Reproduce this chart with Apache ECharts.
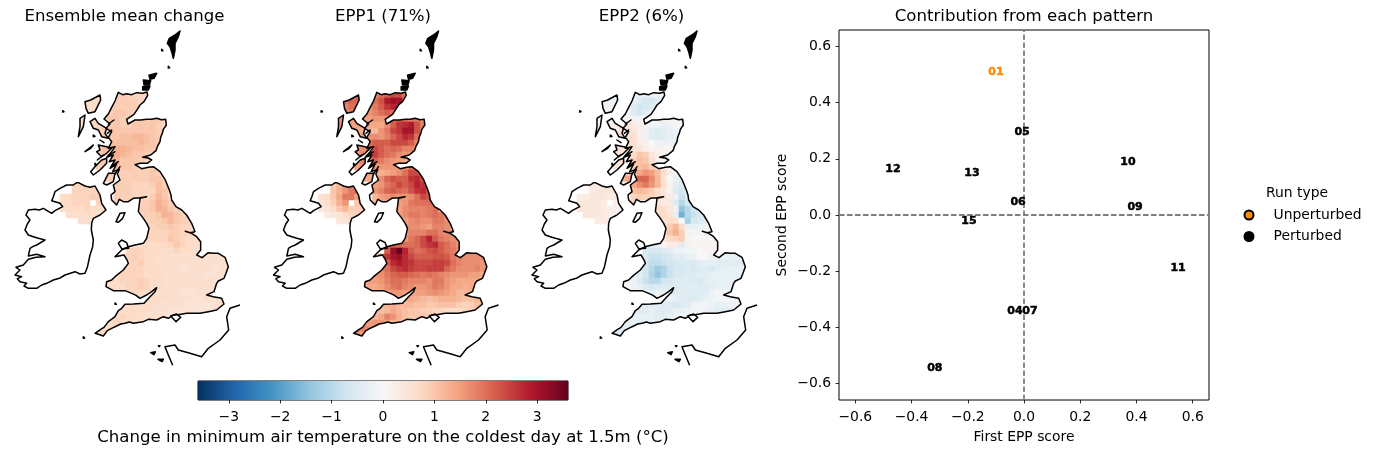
<!DOCTYPE html>
<html><head><meta charset="utf-8">
<style>html,body{margin:0;padding:0;background:#fff}#c{width:1376px;height:454px}</style>
<script src="https://cdn.jsdelivr.net/npm/echarts@6/dist/echarts.min.js"></script>
</head><body><div id="c"></div>
<script>
const _ = null;
const mapTitles = ['Ensemble mean change', 'EPP1 (71%)', 'EPP2 (6%)'];
const colourStops = ['#053061','#2166ac','#4393c3','#92c5de','#d1e5f0','#f7f7f7','#fddbc7','#f4a582','#d6604d','#b2182b','#67001f'];
const colourTicks = [-3,-2,-1,0,1,2,3];
const scoreTicks = [-0.6,-0.4,-0.2,0,0.2,0.4,0.6];

// first grid column of each raster row (rows 12..52)
const firstRow = 12;
const rowStart = [15,14,14,14,13,13,13,13,15,15,15,15,16,17,17,12,12,10,10,10,11,13,24,24,24,21,21,19,20,20,18,17,17,18,20,20,19,18,17,16,15];

const meanRows = [
[.7,.7,0,0,.9,.9,.9,.8,.8,.8],
[.7,.7,.7,0,0,.9,.9,.9,.9,.8],
[.7,.7,.7,0,.9,.9,.9,.9,.9,.8],
[.7,.7,0,.9,.9,1,1,.9,.9],
[.7,.7,.7,.8,.9,1,1,.9,.9,.9,.9,.9,1,1,.8],
[.7,.7,.8,.8,.9,1,1,.9,.9,1,1,1,1,.9,.8],
[.7,.7,.8,.9,.9,1,1,1,1,1,1,1,1,.9,.8],
[.7,.7,.8,.9,1,1,1,1.1,1.1,1.2,1.2,1.1,1,.9],
[.8,.8,1,1.1,1.1,1.1,1.1,1.1,1.2,1.1,1,.9],
[.8,.9,1.1,1.2,1.3,1.3,1.2,1.1,1.1,1,1,.9],
[.8,.9,1.1,1.3,1.3,1.2,1.1,1,1,.9,.8],
[.8,.9,1,1.2,1.2,1,1,1,.9,.8],
[.9,1,1,1.1,1,1,.9,.9,.9,.9,.9],
[1,1,.9,.9,.9,.9,.9,.9,1,.9],
[.9,.9,.9,.9,.9,.9,.9,.9,1,1,.9],
[.8,.8,.8,.7,.8,0,0,.9,.9,.9,.8,.8,.8,.9,1.1,.9],
[.8,.8,.8,.8,.8,0,.9,.9,.9,.9,.8,.8,.8,.8,1.1,1,.8],
[.7,.7,.8,.8,.8,.9,.9,.8,0,.9,.9,.9,.8,.8,.8,.9,1.2,1,.8],
[.7,.7,.8,.8,.8,_,.8,.8,0,.9,.8,.8,.8,.8,.9,1,1.3,1.1,.9],
[.6,.7,.7,.7,.8,.7,.7,.7,0,0,0,0,0,.9,.9,1,1.3,1.2,1,.9],
[.6,.6,.6,.7,.7,.6,0,0,0,0,0,0,.8,.9,.9,1,1.3,1.2,1,.9,.9],
[.6,.6,.6,0,0,0,0,0,0,0,0,.8,.9,.9,1,1.2,1,.9,.8],
[.8,.8,.9,.9,1,.9,.8,.8],
[.8,.8,.8,.8,.9,.9,.8,.8,.7],
[.8,.8,.8,.8,1,.9,.8,.7,.7,.7],
[.7,.7,.7,.7,.7,.7,.7,.8,1,.8,.7,.7,.6],
[.8,.8,.8,.7,.7,.7,.6,.7,.8,.7,.7,.6,.6,.6,.6],
[0,.8,.8,.9,.8,.7,.7,.6,.6,.6,.6,.6,.6,.6,.6,.6,.6,.6,.6],
[.8,.8,.8,.9,.7,.7,.6,.6,.6,.6,.6,.6,.6,.6,.6,.6,.6,.6,.6],
[.8,.8,.8,.8,.7,.7,.7,.6,.6,.6,.5,.6,.6,.6,.6,.5,.5,.6,.6],
[.7,.7,.8,.8,.8,.8,.7,.7,.7,.6,.6,.6,.6,.6,.6,.6,.5,.5,.6,.6],
[.7,.7,.7,.8,.8,.8,.9,.8,.7,.7,.6,.6,.6,.6,.6,.6,.6,.6,.6,.6],
[.7,.7,.7,.7,.8,.8,.9,.8,.7,.7,.6,.6,.6,.6,.6,.6,.6,.6,.6],
[.7,.7,.7,.7,.8,.7,.7,.7,.6,.6,.6,.6,.5,.5,.5,.6,.6,.6],
[.7,.7,.7,.7,.7,.7,.7,.7,.6,.6,.6,.6,.5,.5,.6,.6,.6,.6],
[.7,.7,.7,.7,.7,.7,.6,.6,.6,.6,.6,.5,.5,.5,.4,.5,.6,.6],
[.7,.7,.7,.7,.7,.7,.6,.6,.6,.5,.5,.5,.5,.4,.5,.5,.5,.5],
[.7,.7,.8,.7,.7,.6,.6,.6,.6,.6,.5,.5,.5],
[.7,.7,.8,.7,.7,.7,.6,.6,.6,.6],
[.7,.7,.7,.7,.6],
[.7,.7,.7]];

const epp1Rows = [
[2,2.2,0,0,1.8,2,2.2,2.4,2.4,2],
[2,2.1,2.1,0,0,2,2.3,2.9,3.1,3],
[1.8,2,2,0,1.6,1.9,2.2,2.6,2.8,2.6],
[1.8,1.8,0,1.5,1.6,1.8,2,2.2,2],
[1.6,1.6,1.5,1.6,1.5,1.5,1.6,1.6,1.6,2,2.2,2.1,1.9,1.9,1.6],
[1.6,1.6,1.5,1.5,1.4,1.4,1.4,1.4,1.7,2.2,2.6,2.7,2.9,2.3,1.8],
[1.6,1.6,1.5,1.4,1.3,1.2,1.2,1.6,1.9,2.4,2.6,3,3,2.3,1.8],
[1.6,1.6,1.5,1.4,1.5,1.7,1.7,1.6,1.8,2.1,2.4,2.7,2.6,2],
[1.5,1.5,1.7,2,2.2,2.2,2.2,2.4,2.4,2.4,2.2,1.8],
[1.5,1.6,1.7,2.2,2.4,2.2,2,2.1,2,1.8,1.8,1.6],
[1.5,1.6,1.8,2.2,2.5,2.2,2,1.9,1.7,1.6,1.5],
[1.5,1.6,1.8,2.1,2.1,1.9,1.7,1.6,1.5,1.4],
[1.5,1.6,1.7,1.6,1.6,1.6,1.6,1.6,1.7,2,2],
[1.5,1.5,1.3,1.3,1.4,1.5,1.7,2,2.4,2.4],
[1.4,1.4,1.3,1.7,2.1,2.3,2.2,2.2,2.6,2.7,2.3],
[.9,1.2,1.6,1.9,2.1,0,0,1.5,1.6,1.9,2.1,2.4,2.2,2.4,2.8,2.6],
[1,1.3,1.6,1.9,2.1,0,1.3,1.6,1.8,2.1,2.2,2.1,2,2.3,2.6,2.7,2.2],
[.6,.7,1,1.4,1.9,1.9,1.5,1.2,0,1.2,1.5,1.6,1.7,1.6,1.6,1.7,2,2.4,2.3],
[.5,.6,.9,1.3,1.6,_,1,1,0,1.2,1.4,1.5,1.4,1.5,1.6,1.9,2,2,2],
[.4,.5,.7,1,1.2,.9,.9,.9,0,0,0,0,0,1.5,1.7,1.8,1.8,1.8,1.9,2],
[.3,.4,.5,.7,.8,.9,0,0,0,0,0,0,1.5,1.7,1.9,1.9,1.8,1.9,2,1.9,1.7],
[.4,.5,.6,0,0,0,0,0,0,0,0,1.5,1.7,1.8,1.7,1.7,1.9,1.9,1.7],
[1.6,1.7,1.7,1.6,1.5,1.8,1.8,1.7],
[1.5,1.8,1.8,1.8,2,2,1.8,1.7,1.6],
[1.6,1.9,2.1,2.4,2.8,2.2,1.9,1.8,1.7,1.6],
[2.1,2.2,2.1,2,2,2.1,2.4,2.6,2.7,2.2,2,1.8,1.6],
[2.2,3.1,3.6,2.8,2.2,2,2.1,2.3,2.4,2.2,2,1.9,1.7,1.7,1.7],
[0,2,2.6,3,3.1,2.7,2.4,2.2,2.2,2.2,2.3,2.3,2.2,1.9,1.8,1.7,1.7,1.7,1.7],
[1.8,2.2,2.7,2.9,2.7,2.6,2.4,2.4,2.4,2.5,2.5,2.4,2,1.8,1.7,1.7,1.7,1.6,1.6],
[1.7,2,2.4,2.6,2.7,2.5,2.4,2.4,2.5,2.5,2.5,2.1,1.9,1.7,1.7,1.7,1.8,1.6,1.5],
[1.5,1.6,1.7,1.9,2.1,2.2,2.2,2.1,2,1.9,2,1.9,1.8,1.7,1.6,1.6,1.6,1.5,1.5,1.4],
[1.4,1.5,1.5,1.6,1.8,2,2,1.9,1.8,1.8,1.8,1.7,1.9,1.9,1.6,1.5,1.4,1.4,1.4,1.4],
[1.4,1.4,1.4,1.5,1.7,1.9,2,1.8,1.7,1.6,1.6,1.7,1.9,1.8,1.6,1.4,1.4,1.3,1.4],
[1.4,1.4,1.4,1.5,1.6,1.6,1.5,1.5,1.5,1.5,1.6,1.7,1.6,1.5,1.4,1.2,1.2,1.3],
[1.4,1.4,1.4,1.4,1.4,1.4,1.3,1.2,1.1,1.2,1.3,1.3,1.3,1.2,1.1,1.1,1.2,1.3],
[1.3,1.3,1.3,1.2,1.2,1.2,1.1,1.1,1,1,1.1,1.1,1.1,.9,.8,.9,1.1,1.2],
[1.1,1.1,1.2,1.4,1.2,1.1,1,1,.9,.9,.8,.8,.7,.7,.7,.8,.9,1.1],
[1.2,1.2,1.4,1.8,1.6,1.3,1.1,1,1,1,.9,.9,.9],
[1.5,1.5,1.6,1.6,1.5,1.3,1.1,1.1,1,1],
[1.7,1.8,1.7,1.6,1.3],
[1.6,1.7,1.5]];

const epp2Rows = [
[-.2,-.2,0,0,-.2,-.3,-.3,-.2,-.2,-.1],
[-.2,-.2,-.2,0,0,-.3,-.5,-.6,-.6,-.4],
[-.2,-.2,-.2,0,-.1,-.5,-.7,-.6,-.5,-.3],
[-.1,-.1,0,.1,-.1,-.5,-.6,-.4,-.2],
[0,0,.1,.2,.2,.1,-.1,-.1,0,.1,.1,.1,.1,.1,0],
[0,0,.2,.3,.4,.4,.3,.2,.1,-.2,-.2,-.3,-.2,-.1,0],
[0,.1,.2,.3,.5,.5,.4,.2,-.2,-.4,-.5,-.4,-.3,-.2,-.1],
[.1,.1,.3,.4,.6,.6,.6,.2,-.2,-.4,-.5,-.4,-.3,-.2],
[.3,.4,.7,.7,.6,.3,.2,0,-.2,-.2,-.2,-.2],
[.3,.4,.5,.5,.5,.4,.2,.1,.1,.1,.1,0],
[.3,.4,.5,.6,.7,1,.9,.4,.2,.1,.1],
[.3,.4,.5,.6,.9,1.1,1,.6,.2,.1],
[.5,.6,.7,.8,1.1,1.2,.9,.7,.4,.1,0],
[.9,1,1.1,1.4,1.6,1.5,1.1,.6,.2,-.1],
[1.1,1.4,1.9,2.1,2.1,1.7,1.2,.5,0,-.3,-.4],
[.3,.3,.3,.3,.3,0,0,1.4,1.7,1.9,1.6,1.2,.6,.1,-.4,-.5],
[.3,.4,.4,.4,.3,0,.9,1.1,1.2,1.1,.9,.6,.4,.1,-.5,-.7,-.2],
[.3,.3,.4,.4,.4,.3,.3,.3,0,.8,.9,.9,.8,.7,.5,.3,-.2,-.8,-.5],
[.4,.4,.4,.4,.3,_,.2,.2,0,.8,.7,.6,.5,.4,.3,.3,-.5,-1,-.6],
[.4,.4,.4,.4,.3,.2,.2,.2,0,0,0,0,0,.7,.6,.4,-.2,-1.4,-1,-.7],
[.4,.4,.4,.3,.2,.2,0,0,0,0,0,0,.7,.7,.5,-.3,-1.7,-1,-.8,-.6,-.4],
[.3,.3,.2,0,0,0,0,0,0,0,0,.6,.7,.6,0,-1.2,-.6,-.5,-.4],
[.7,.9,1.2,.6,-.3,-.3,-.2,-.2],
[.7,1,1.3,.9,.1,-.1,-.1,0,0],
[.5,.7,.8,.9,.1,0,0,.1,0,0],
[-.5,-.5,-.3,.1,.3,.3,-.4,.2,.1,.1,.1,.1,.1],
[-.6,-.6,-.6,-.5,-.4,-.2,-.2,-.1,-.1,0,.1,.1,0,-.1,-.1],
[0,-.4,-.6,-.8,-.8,-.7,-.6,-.4,-.4,-.3,-.2,0,0,-.2,-.2,-.2,-.3,-.3,-.3],
[-.5,-.7,-.9,-.9,-.8,-.7,-.6,-.5,-.5,-.5,-.4,-.3,-.3,-.4,-.4,-.4,-.4,-.4,-.3],
[-.4,-.7,-1,-1.3,-1.1,-.8,-.6,-.6,-.5,-.6,-.5,-.5,-.6,-.4,-.3,-.3,-.3,-.3,-.3],
[-.2,-.2,-.4,-.7,-1.1,-1.4,-1.1,-.8,-.6,-.6,-.5,-.5,-.4,-.4,-.3,-.3,-.3,-.3,-.3,-.3],
[0,-.1,-.2,-.5,-.8,-1,-1,-.7,-.6,-.5,-.5,-.5,-.5,-.6,-.4,-.3,-.3,-.3,-.3,-.3],
[.1,0,-.2,-.3,-.5,-.6,-.5,-.5,-.5,-.5,-.5,-.4,-.4,-.5,-.5,-.4,-.3,-.3,-.3],
[-.1,-.1,-.2,-.3,-.3,-.2,-.3,-.3,-.5,-.4,-.4,-.5,-.5,-.4,-.2,-.1,-.1,-.2],
[-.2,-.2,-.2,-.2,-.2,-.2,-.3,-.5,-.5,-.5,-.4,-.3,-.2,-.1,-.1,-.1,-.1,-.2],
[-.4,-.4,-.4,-.4,-.5,-.5,-.6,-.5,-.4,-.2,-.1,-.1,-.2,-.3,-.3,-.2,-.2,-.2],
[-.4,-.4,-.4,-.3,-.4,-.5,-.4,-.3,-.3,-.2,-.1,-.1,-.2,-.3,-.4,-.4,-.3,-.2],
[-.3,-.3,-.3,-.3,-.3,-.4,-.4,-.3,-.2,-.1,-.1,-.1,-.1],
[-.4,-.4,-.3,-.3,-.3,-.3,-.3,-.2,-.2,-.2],
[-.4,-.4,-.4,-.4,-.3],
[-.4,-.4,-.4]];

// coastlines, map units
const greatBritain = [[355,217],[368,224],[380,221],[395,224],[410,218],[428,220],[441,216],[443,226],[432,245],[420,255],[412,268],[402,283],[380,298],[384,312],[405,300],[422,300],[440,298],[455,298],[470,295],[485,299],[497,298],[499,315],[490,328],[487,340],[482,352],[480,365],[472,380],[468,392],[452,405],[428,412],[445,414],[455,420],[442,430],[420,430],[405,434],[425,446],[445,442],[460,440],[480,455],[495,478],[503,497],[508,510],[513,525],[515,540],[528,560],[545,570],[560,585],[575,610],[585,635],[570,638],[556,634],[575,640],[590,650],[602,665],[602,690],[590,705],[606,713],[625,698],[640,700],[655,700],[675,712],[685,740],[678,760],[672,775],[655,783],[650,790],[642,815],[620,825],[640,830],[665,835],[672,852],[650,870],[625,875],[600,880],[560,880],[535,884],[520,885],[505,895],[490,890],[470,900],[445,898],[430,905],[400,910],[388,906],[375,910],[362,912],[350,918],[335,925],[322,932],[310,948],[295,943],[285,940],[302,928],[312,922],[325,905],[345,890],[355,872],[365,865],[375,853],[400,852],[432,850],[450,830],[465,815],[470,803],[455,815],[440,825],[420,835],[408,826],[395,820],[375,812],[360,812],[340,812],[318,800],[320,785],[335,780],[345,770],[370,750],[385,730],[380,718],[372,705],[345,710],[365,690],[385,680],[405,675],[430,670],[440,655],[447,625],[440,610],[430,595],[415,575],[418,552],[420,535],[440,530],[420,533],[400,535],[385,545],[370,545],[358,538],[350,555],[335,540],[333,525],[345,515],[340,495],[360,480],[352,462],[358,448],[338,455],[350,432],[330,445],[345,420],[328,425],[340,405],[320,412],[335,395],[345,380],[325,385],[335,365],[325,352],[335,335],[318,325],[330,312],[312,297],[325,282],[335,262],[345,243]];
const ireland = [[230,488],[220,495],[200,495],[180,505],[165,515],[160,530],[155,542],[180,550],[188,560],[165,572],[155,580],[130,565],[118,570],[105,568],[85,570],[78,585],[90,600],[82,612],[75,630],[85,645],[100,650],[115,655],[135,660],[110,675],[98,680],[90,685],[85,708],[110,703],[135,710],[108,712],[85,718],[70,735],[48,742],[60,750],[45,765],[65,770],[52,776],[60,785],[80,790],[72,798],[85,805],[110,805],[125,795],[140,790],[160,780],[178,775],[195,765],[225,755],[240,762],[255,760],[262,742],[270,705],[278,680],[280,660],[274,630],[275,610],[280,595],[300,585],[318,570],[305,550],[300,525],[285,498],[270,502],[255,498],[235,488]];
const lewis = [[255,245],[272,240],[300,225],[302,240],[285,275],[265,280],[258,265]];
const uist = [[240,295],[255,285],[250,320],[235,350],[240,320]];
const skye = [[270,305],[285,295],[295,310],[320,325],[315,340],[325,355],[305,350],[295,330],[280,325]];
const mull = [[295,375],[320,380],[335,385],[320,400],[305,410],[290,395],[300,390]];
const jura = [[285,440],[305,420],[320,415],[320,430],[300,450],[280,465],[272,455]];
const kintyre = [[310,490],[325,460],[345,460],[340,485],[320,495]];
const tiree = [[255,395],[280,375],[272,385]];
const isleOfMan = [[348,605],[360,580],[375,578],[368,595],[355,607]];
const anglesey = [[355,670],[365,660],[380,668],[386,685],[365,686]];
const wight = [[512,888],[530,882],[542,892],[528,905]];
const shetland = [[540,33],[525,45],[508,55],[502,70],[510,80],[515,95],[520,115],[525,90],[525,70],[535,50]];
const orkneyNorth = [[447,166],[470,160],[462,175],[450,178]];
const orkneyMain = [[430,180],[452,182],[448,195],[432,195]];
const orkneySouth = [[428,200],[450,198],[445,210],[428,210]];
const specks = [[[188,272],[192,275],[188,276]],[[485,88],[489,92],[485,92]],[[505,139],[509,143],[505,144]],[[345,849],[349,853],[345,853]],[[250,950],[254,954],[250,955]],[[452,998],[466,995],[462,1004]],[[474,1018],[490,1018],[486,1025]],[[475,977],[480,977],[478,980]],[[280,345],[285,349],[280,350]],[[285,430],[289,434],[285,435]]];
const seaLochs = [[[345,395],[325,408]],[[355,425],[335,438]],[[360,440],[345,462]],[[335,330],[322,340]],[[342,300],[325,312]],[[300,360],[312,368]],[[292,420],[310,405]]];
const france = [[720,855],[690,865],[680,890],[686,930],[660,960],[625,985],[605,1010],[570,1000],[535,990],[525,975],[495,980],[505,1005],[518,1036]];
const outlineShapes = [greatBritain, ireland, lewis, uist, skye, mull, jura, kintyre, tiree, isleOfMan, anglesey, wight];
const filledShapes = [shetland, orkneyNorth, orkneyMain, orkneySouth].concat(specks, seaLochs);
const clipShapes = [greatBritain, ireland, lewis, uist, skye, mull, jura, kintyre];

// scatter scores [first EPP, second EPP, run]
const unperturbedRuns = [[-0.10,0.512,'01']];
const perturbedRuns = [[-0.032,-0.338,'04'],[-0.007,0.299,'05'],[-0.021,0.05,'06'],[0.021,-0.338,'07'],[-0.317,-0.541,'08'],[0.395,0.032,'09'],[0.37,0.192,'10'],[0.548,-0.185,'11'],[-0.466,0.167,'12'],[-0.185,0.153,'13'],[-0.196,-0.018,'15']];
const scoreLimit = 0.658, colourLimit = 3.6;

const font = 'DejaVu Sans';
const cell = 18;
const minus = v => String(v).replace('-', '\u2212');
const fix1 = v => minus(Number(v).toFixed(1));

function rowsToData(rows){
  const out = [];
  rows.forEach((row,i)=>row.forEach((v,j)=>{ if(v!==null) out.push([rowStart[i]+j, firstRow+i, v]); }));
  return out;
}
function bounds(pts){
  const xs=pts.map(p=>p[0]), ys=pts.map(p=>p[1]);
  return [Math.min(...xs),Math.max(...xs),Math.min(...ys),Math.max(...ys)];
}
const clipBounds = clipShapes.map(bounds);
function renderCell(params, api){
  const c=api.value(0), r=api.value(1);
  const a=api.coord([c*cell,r*cell]), b=api.coord([(c+1)*cell,(r+1)*cell]);
  const fill=api.visual('color');
  const children=[];
  clipShapes.forEach((shape,k)=>{
    const bb=clipBounds[k];
    if((c+1)*cell<bb[0]||c*cell>bb[1]||(r+1)*cell<bb[2]||r*cell>bb[3]) return;
    children.push({type:'rect',shape:{x:a[0]-.3,y:a[1]-.3,width:b[0]-a[0]+.6,height:b[1]-a[1]+.6},
      style:{fill:fill,stroke:null},
      clipPath:{type:'polygon',shape:{points:shape.map(p=>api.coord(p))}}});
  });
  return {type:'group',children};
}
function renderShape(list,closed,solid){
  return function(params,api){
    const pts=list[api.value(0)].map(p=>api.coord(p));
    return {type:closed?'polygon':'polyline',shape:{points:pts},
      style:{fill:solid?'#000':'none',stroke:'#000',lineWidth:1.5,lineJoin:'round'}};
  };
}
const grids=[], xAxes=[], yAxes=[], series=[], titles=[];
const mapRows=[meanRows,epp1Rows,epp2Rows];
const cellIdx=[];
const titleStyle={fontFamily:font,fontSize:16.6,fontWeight:'normal',color:'#000'};
const tickFont={fontFamily:font,fontSize:13.9,color:'#000'};
mapTitles.forEach((t,i)=>{
  const left=i*258.5;
  grids.push({left:left,top:20,width:260,height:350});
  xAxes.push({type:'value',gridIndex:i,min:0,max:780,show:false});
  yAxes.push({type:'value',gridIndex:i,min:0,max:1050,inverse:true,show:false});
  titles.push({text:t,left:119.5+left,top:3,textAlign:'center',textStyle:titleStyle});
  cellIdx.push(series.length);
  series.push({type:'custom',xAxisIndex:i,yAxisIndex:i,coordinateSystem:'cartesian2d',renderItem:renderCell,silent:true,animation:false,clip:false,z:1,
    dimensions:['col','row','value'],encode:{x:0,y:1},data:rowsToData(mapRows[i])});
  series.push({type:'custom',xAxisIndex:i,yAxisIndex:i,renderItem:renderShape(outlineShapes,true,false),silent:true,animation:false,z:3,clip:false,
    encode:{x:[],y:[]},data:outlineShapes.map((s,k)=>[k])});
  series.push({type:'custom',xAxisIndex:i,yAxisIndex:i,renderItem:renderShape(filledShapes,true,true),silent:true,animation:false,z:3,clip:false,
    encode:{x:[],y:[]},data:filledShapes.map((s,k)=>[k])});
  series.push({type:'custom',xAxisIndex:i,yAxisIndex:i,renderItem:renderShape([france],false,false),silent:true,animation:false,z:3,clip:false,
    encode:{x:[],y:[]},data:[[0]]});
});

// colour bar
grids.push({left:198,top:381,width:370,height:19,show:true,borderColor:'#000',borderWidth:1,backgroundColor:'transparent'});
xAxes.push({type:'value',gridIndex:3,min:-colourLimit,max:colourLimit,
  axisLine:{show:false,onZero:false},splitLine:{show:false},
  axisTick:{show:true,length:3.5,customValues:colourTicks,lineStyle:{color:'#000',width:.8}},
  axisLabel:{show:true,customValues:colourTicks,formatter:minus,margin:10,...tickFont},
  name:'Change in minimum air temperature on the coldest day at 1.5m (\u00b0C)',nameLocation:'middle',nameGap:29,
  nameTextStyle:{fontFamily:font,fontSize:16.6,color:'#000'}});
yAxes.push({type:'value',gridIndex:3,min:0,max:1,show:false});
series.push({type:'custom',xAxisIndex:3,yAxisIndex:3,silent:true,animation:false,z:1,data:[[-colourLimit,0,colourLimit,1]],encode:{x:[0,2],y:[1,3]},
  renderItem(params,api){
    const a=api.coord([api.value(0),api.value(3)]), b=api.coord([api.value(2),api.value(1)]);
    return {type:'rect',shape:{x:a[0],y:a[1],width:b[0]-a[0],height:b[1]-a[1]},
      style:{fill:new echarts.graphic.LinearGradient(0,0,1,0,colourStops.map((c,i)=>({offset:i/(colourStops.length-1),color:c})))}};
  }});

// scatter panel
grids.push({left:839,top:30,width:370,height:370,show:true,borderColor:'#000',borderWidth:1,backgroundColor:'transparent'});
const tickStyle={show:true,length:3.5,customValues:scoreTicks,lineStyle:{color:'#000',width:.8}};
xAxes.push({type:'value',gridIndex:4,min:-scoreLimit,max:scoreLimit,axisLine:{show:false,onZero:false},splitLine:{show:false},
  axisTick:tickStyle,axisLabel:{show:true,customValues:scoreTicks,formatter:fix1,margin:10,...tickFont},
  name:'First EPP score',nameLocation:'middle',nameGap:30,nameTextStyle:tickFont});
yAxes.push({type:'value',gridIndex:4,min:-scoreLimit,max:scoreLimit,axisLine:{show:false,onZero:false},splitLine:{show:false},
  axisTick:tickStyle,axisLabel:{show:true,customValues:scoreTicks,formatter:fix1,margin:8,padding:[3,0,0,0],...tickFont},
  name:'Second EPP score',nameLocation:'middle',nameGap:50,nameTextStyle:tickFont});
titles.push({text:'Contribution from each pattern',left:1019,top:3,textAlign:'center',textStyle:titleStyle});
titles.push({text:'Run type',left:1292,top:181,textAlign:'center',textStyle:{fontFamily:font,fontSize:13.9,fontWeight:'normal',color:'#000'}});
const dash={color:'#7f7f7f',width:1.8,type:[5.5,2.5]};
series.push({type:'line',xAxisIndex:4,yAxisIndex:4,symbol:'none',silent:true,animation:false,lineStyle:dash,z:2,data:[[-scoreLimit,0],[scoreLimit,0]]});
series.push({type:'line',xAxisIndex:4,yAxisIndex:4,symbol:'none',silent:true,animation:false,lineStyle:dash,z:2,data:[[0,-scoreLimit],[0,scoreLimit]]});
function runSeries(name,data,colour){
  return {type:'scatter',name,xAxisIndex:4,yAxisIndex:4,data,symbolSize:0,animation:false,silent:true,z:4,
    itemStyle:{color:colour,opacity:1,borderColor:'#000',borderWidth:1},
    label:{show:true,position:'inside',offset:[0,1],formatter:p=>p.value[2],color:colour,opacity:1,fontFamily:font,fontSize:11,fontWeight:'bold',textBorderColor:colour,textBorderWidth:.5}};
}
series.push(runSeries('Unperturbed',unperturbedRuns,'#ff8c00'));
series.push(runSeries('Perturbed',perturbedRuns,'#000'));

const chart=echarts.init(document.getElementById('c'),null,{renderer:'canvas'});
chart.setOption({
  backgroundColor:'#fff',animation:false,title:titles,grid:grids,xAxis:xAxes,yAxis:yAxes,series,tooltip:{show:false},
  legend:{data:[{name:'Unperturbed',icon:'circle'},{name:'Perturbed',icon:'circle'}],orient:'vertical',left:1238.5,top:203,itemWidth:9,itemHeight:9,itemGap:7.5,selectedMode:false,
    textStyle:{fontFamily:font,fontSize:13.9,color:'#000',padding:[0,0,0,15]}},
  visualMap:{show:false,type:'continuous',seriesIndex:cellIdx,dimension:2,min:-colourLimit,max:colourLimit,inRange:{color:colourStops}}
});
</script></body></html>
